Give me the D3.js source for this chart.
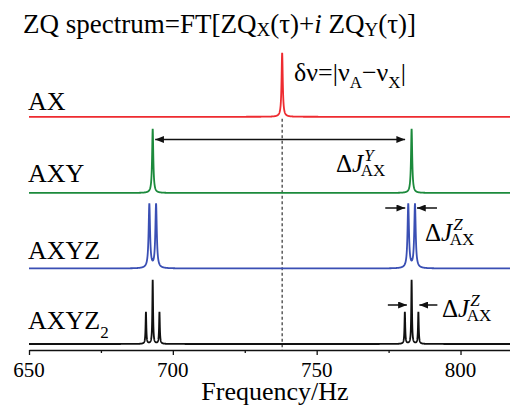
<!DOCTYPE html>
<html><head><meta charset="utf-8">
<script src="https://cdn.jsdelivr.net/npm/d3@7"></script>
</head><body style="margin:0">
<svg id="chart" width="510" height="407"></svg>
<script>
// Spectral lines of each spin system: frequency (Hz) and relative intensity
const systems = ["AX", "AXY", "AXYZ", "AXYZ2"];
const freqAX = [738];
const ampAX = [1];
const freqAXY = [693, 783];
const ampAXY = [1, 1];
const freqAXYZ = [691.83, 694.17, 781.83, 784.17];
const ampAXYZ = [1, 1, 1, 1];
const freqAXYZ2 = [690.65, 693, 695.35, 780.65, 783, 785.35];
const ampAXYZ2 = [0.5, 1, 0.5, 0.5, 1, 0.5];
// Lorentzian half width at half height of each spectrum (Hz)
const halfWidths = [0.25, 0.25, 0.3, 0.15];
const tickValues = [650, 700, 750, 800];
const minorTickValues = [675, 725, 775];
const centreFreq = 738;

const FONT = "Liberation Serif";
const freqs = [freqAX, freqAXY, freqAXYZ, freqAXYZ2];
const amps = [ampAX, ampAXY, ampAXYZ, ampAXYZ2];
const colors = ["#ee2b30", "#1c8a3c", "#3a4fb4", "#111111"];
const stackOffset = [3.55, 2.36, 1.18, 0];

const svg = d3.select("#chart");
const x = d3.scaleLinear().domain([650, 817.2]).range([29, 510]);
const y = d3.scaleLinear().domain([0, 5]).range([344, 24]);

const marks = svg.append("g");
const labels = svg.append("g");

function txt(x0, y0, size) {
  return labels.append("text").attr("x", x0).attr("y", y0).attr("font-size", size)
    .style("font-family", FONT);
}

// title
const title = txt(23, 33, 27);
title.append("tspan").text("ZQ spectrum=FT[ZQ");
title.append("tspan").attr("font-size", 19).attr("dy", 3).text("X");
title.append("tspan").attr("dy", -3).text("(τ)+");
title.append("tspan").attr("font-style", "italic").text("i");
title.append("tspan").text(" ZQ");
title.append("tspan").attr("font-size", 19).attr("dy", 3).text("Y");
title.append("tspan").attr("dy", -3).text("(τ)]");

// spin-system labels
const labelY = [109.5, 182, 258.5, 328.5];
systems.forEach((s, i) => {
  const t = txt(28, labelY[i], 26);
  if (s === "AXYZ2") {
    t.append("tspan").text("AXYZ");
    t.append("tspan").attr("font-size", 17).attr("dy", 9).text("2");
  } else t.text(s);
});

// frequency difference label
const dn = txt(294, 81, 26);
dn.append("tspan").text("δν=|ν");
dn.append("tspan").attr("font-size", 17).attr("dy", 7).text("A");
dn.append("tspan").attr("dy", -7).text("−ν");
dn.append("tspan").attr("font-size", 17).attr("dy", 7).text("X");
dn.append("tspan").attr("dy", -7).text("|");

// coupling difference labels: ΔJ with stacked superscript and subscript
function deltaJ(x0, yb, sup) {
  const t = txt(x0, yb, 25);
  t.append("tspan").text("Δ");
  t.append("tspan").attr("font-style", "italic").text("J");
  t.append("tspan").attr("font-size", 17).attr("font-style", "italic")
    .attr("dx", 1).attr("dy", -11).text(sup);
  t.append("tspan").attr("font-size", 17).attr("dx", -13).attr("dy", 15).text("AX");
}
deltaJ(336, 172, "Y");
deltaJ(425, 241, "Z");
deltaJ(442, 317, "Z");

// axis title and tick labels
txt(x(735.5), 400, 26).attr("text-anchor", "middle").text("Frequency/Hz");
tickValues.forEach(v => txt(x(v), 377, 21).attr("text-anchor", "middle").text(v));

// sum of Lorentzian lines
function spectrum(f, i) {
  const g = halfWidths[i];
  let s = 0;
  freqs[i].forEach((p, k) => { s += amps[i][k] * g * g / ((f - p) * (f - p) + g * g); });
  return s;
}
const grid = d3.range(650, 817.2, 0.025);

// dashed guide at the centre frequency
marks.append("line")
  .attr("x1", x(centreFreq)).attr("x2", x(centreFreq))
  .attr("y1", y(stackOffset[0]) + 2).attr("y2", 350)
  .attr("stroke", "#333").attr("stroke-width", 1.2).attr("stroke-dasharray", "3,2.5");

const line = d3.line().x(d => x(d[0])).y(d => y(d[1]));
systems.forEach((s, i) => {
  const pts = grid.map(f => [f, stackOffset[i] + spectrum(f, i)]);
  marks.append("path").attr("d", line(pts))
    .attr("fill", "none").attr("stroke", colors[i]).attr("stroke-width", 1.8);
});

// x axis line and ticks (labels drawn above)
const axis = marks.append("g").attr("transform", "translate(0,350)")
  .call(d3.axisBottom(x).tickValues(tickValues).tickSize(5).tickFormat("").tickSizeOuter(0));
axis.select(".domain").attr("stroke", "#111").attr("stroke-width", 1.5);
axis.selectAll(".tick line").attr("stroke", "#111").attr("stroke-width", 1.3);
const minor = marks.append("g").attr("transform", "translate(0,350)")
  .call(d3.axisBottom(x).tickValues(minorTickValues).tickSize(3).tickFormat("").tickSizeOuter(0));
minor.select(".domain").remove();
minor.selectAll(".tick line").attr("stroke", "#111").attr("stroke-width", 1.3);

// arrowheads
const defs = svg.append("defs");
defs.append("marker").attr("id", "head").attr("viewBox", "0 0 10 8")
  .attr("refX", 10).attr("refY", 4).attr("markerWidth", 9).attr("markerHeight", 7)
  .attr("markerUnits", "userSpaceOnUse").attr("orient", "auto-start-reverse")
  .append("path").attr("d", "M0,0L10,4L0,8z").attr("fill", "#111");

function arrow(x1, x2, yy, both) {
  const l = marks.append("line").attr("x1", x1).attr("x2", x2).attr("y1", yy).attr("y2", yy)
    .attr("stroke", "#111").attr("stroke-width", 1.5).attr("marker-end", "url(#head)");
  if (both) l.attr("marker-start", "url(#head)");
}
arrow(x(freqAXY[0]) + 2.5, x(freqAXY[1]) - 6.5, 139.5, true);
arrow(x(freqAXYZ[2]) - 23, x(freqAXYZ[2]) - 3, 208);
arrow(x(freqAXYZ[3]) + 22, x(freqAXYZ[3]) + 2, 208);
arrow(x(freqAXYZ2[3]) - 17, x(freqAXYZ2[3]) + 2, 305);
arrow(x(freqAXYZ2[5]) + 19, x(freqAXYZ2[5]) + 1, 305);
</script>
</body></html>
